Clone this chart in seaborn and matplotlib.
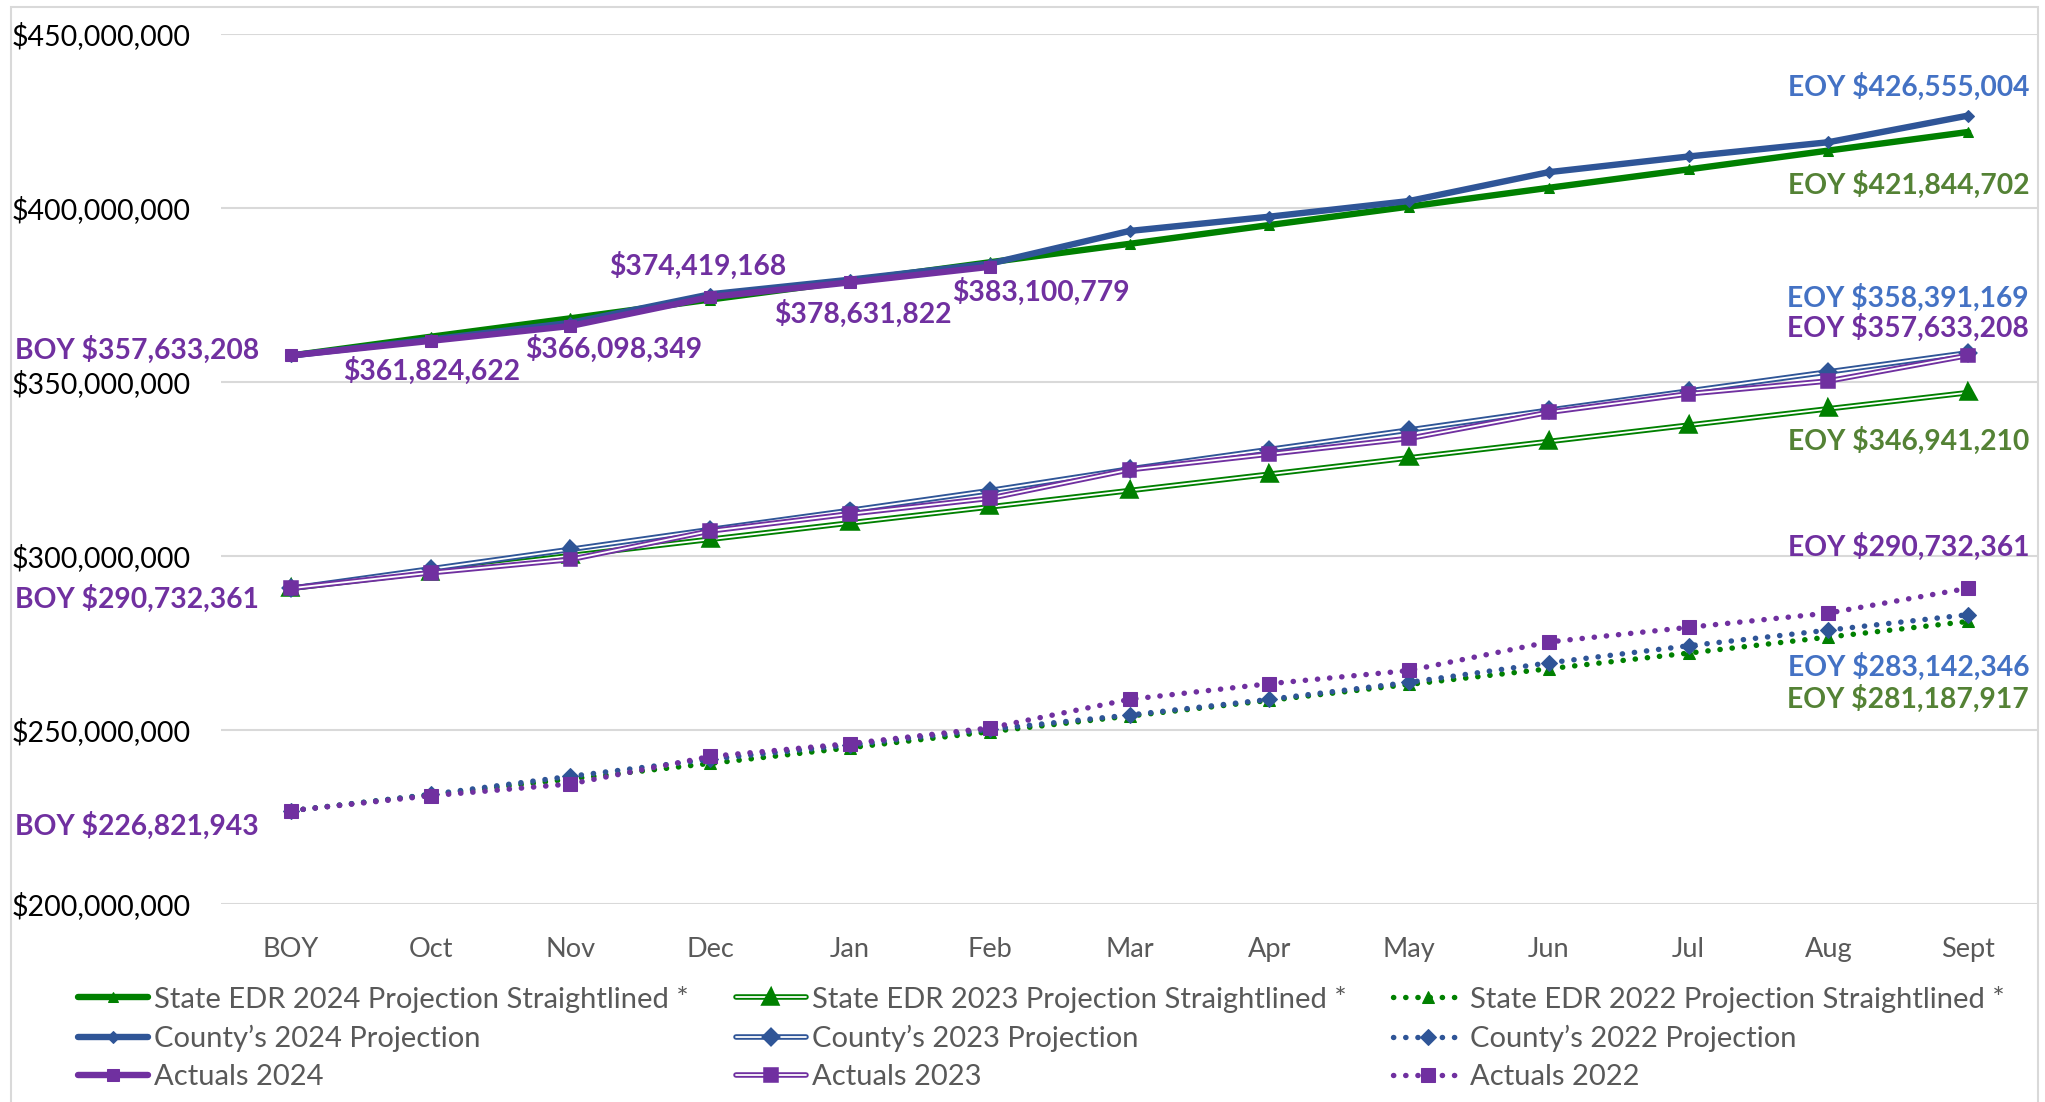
import numpy as np
import matplotlib
matplotlib.use("Agg")
import matplotlib.pyplot as plt
import matplotlib.patheffects as pe
from matplotlib.patches import Rectangle
from matplotlib.ticker import FuncFormatter
import seaborn as sns

months = ["BOY", "Oct", "Nov", "Dec", "Jan", "Feb", "Mar", "Apr", "May", "Jun", "Jul", "Aug", "Sept"]

# values in millions of dollars
state_2024 = [357.6, 363.0, 368.3, 373.7, 379.0, 384.4, 389.7, 395.1, 400.4, 405.8, 411.1, 416.5, 421.844702]
county_2024 = [357.6, 362.2, 367.0, 375.2, 379.4, 384.0, 393.4, 397.5, 402.0, 410.3, 414.8, 418.9, 426.555004]
actual_2024 = [357.633208, 361.824622, 366.098349, 374.419168, 378.631822, 383.100779]

state_2023 = [290.7, 295.4, 300.1, 304.8, 309.5, 314.1, 318.8, 323.5, 328.2, 332.9, 337.6, 342.3, 346.941210]
county_2023 = [290.7, 296.3, 301.9, 307.6, 313.1, 318.8, 325.0, 330.6, 336.2, 341.9, 347.4, 352.9, 358.391169]
actual_2023 = [290.732361, 295.2, 299.0, 307.2, 312.1, 316.6, 324.8, 329.3, 333.8, 341.3, 346.6, 350.3, 357.633208]

state_2022 = [226.8, 231.4, 235.9, 240.4, 244.9, 249.5, 254.0, 258.5, 263.1, 267.6, 272.1, 276.7, 281.187917]
county_2022 = [226.8, 231.5, 236.7, 241.6, 245.7, 250.2, 254.3, 258.8, 263.7, 269.3, 274.2, 278.7, 283.142346]
actual_2022 = [226.821943, 231.1, 234.5, 242.4, 246.1, 250.6, 258.8, 263.3, 267.1, 275.3, 279.5, 283.6, 290.732361]

series_labels = [
    "State EDR 2024 Projection Straightlined *", "County\u2019s 2024 Projection", "Actuals 2024",
    "State EDR 2023 Projection Straightlined *", "County\u2019s 2023 Projection", "Actuals 2023",
    "State EDR 2022 Projection Straightlined *", "County\u2019s 2022 Projection", "Actuals 2022",
]

GREEN = "#008000"
BLUE = "#2F5597"
PURPLE = "#7030A0"
LBL_GREEN = "#548235"
LBL_BLUE = "#4472C4"

sns.set_style("white")
plt.rcParams["font.family"] = ["Lato", "DejaVu Sans"]

fig = plt.figure(figsize=(20.45, 11.02), dpi=100)
ax = fig.add_axes([221 / 2045, 1 - 904 / 1102, (2038 - 221) / 2045, (904 - 34) / 1102])


def draw(values, label, color, marker, ms, kind, z):
    x = np.arange(len(values))
    y = np.array(values) * 1e6
    if kind == "solid":
        sns.lineplot(x=x, y=y, ax=ax, color=color, linewidth=4.6, marker=marker,
                     markersize=ms, markerfacecolor=color, markeredgecolor=color,
                     label=label, zorder=z)
    elif kind == "double":
        sns.lineplot(x=x, y=y, ax=ax, color="white", linewidth=1.3, marker=marker,
                     markersize=ms, markerfacecolor=color, markeredgecolor=color,
                     path_effects=[pe.Stroke(linewidth=4.0, foreground=color), pe.Normal()],
                     label=label, zorder=z)
    else:
        sns.lineplot(x=x, y=y, ax=ax, color=color, linewidth=3.9, marker=marker,
                     markersize=ms, markerfacecolor=color, markeredgecolor=color,
                     linestyle=(0, (0.05, 2.2)), dash_capstyle="round",
                     label=label, zorder=z)


draw(state_2024, series_labels[0], GREEN, "^", 7, "solid", 5)
draw(county_2024, series_labels[1], BLUE, "D", 6, "solid", 6)
draw(actual_2024, series_labels[2], PURPLE, "s", 9, "solid", 7)
draw(state_2023, series_labels[3], GREEN, "^", 8, "double", 3)
draw(county_2023, series_labels[4], BLUE, "D", 6, "double", 3.2)
draw(actual_2023, series_labels[5], PURPLE, "s", 7, "double", 3.4)
draw(state_2022, series_labels[6], GREEN, "^", 9, "dotted", 2)
draw(county_2022, series_labels[7], BLUE, "D", 8, "dotted", 2.2)
draw(actual_2022, series_labels[8], PURPLE, "s", 10, "dotted", 2.4)

ax.set_xlim(-0.5, 12.5)
ax.set_ylim(200e6, 450e6)
ax.set_xticks(range(len(months)))
ax.set_xticklabels(months)
ax.set_yticks(np.arange(200e6, 450e6 + 1, 50e6))
ax.yaxis.set_major_formatter(FuncFormatter(lambda v, p: f"${v:,.0f}"))
ax.tick_params(axis="x", labelsize=19.5, labelcolor="#595959", length=0, pad=24)
ax.tick_params(axis="y", labelsize=20.5, labelcolor="#000000", length=0, pad=22)
ax.grid(axis="y", color="#D9D9D9", linewidth=1.5)
ax.set_axisbelow(True)
for s in ax.spines.values():
    s.set_visible(False)
ax.set_xlabel("")
ax.set_ylabel("")

bold = dict(fontsize=20.3, fontweight="bold", textcoords="offset pixels")

# actuals 2024 point labels
pt_labels = ["$361,824,622", "$366,098,349", "$374,419,168", "$378,631,822", "$383,100,779"]
pt_offsets = [(1, -30), (43, -23), (-12, 31), (13, -31), (51, -25)]
for i, (t, off) in enumerate(zip(pt_labels, pt_offsets), start=1):
    ax.annotate(t, (i, actual_2024[i] * 1e6), xytext=off, ha="center", va="center",
                color=PURPLE, **bold)

# BOY labels
boy = [("BOY $357,633,208", actual_2024[0], 6), ("BOY $290,732,361", actual_2023[0], -11),
       ("BOY $226,821,943", actual_2022[0], -15)]
for t, v, dy in boy:
    ax.annotate(t, (0, v * 1e6), xytext=(-32, dy), ha="right", va="center", color=PURPLE, **bold)

# EOY labels
eoy = [("EOY $426,555,004", county_2024[-1], 29, LBL_BLUE),
       ("EOY $421,844,702", state_2024[-1], -53, LBL_GREEN),
       ("EOY $358,391,169", county_2023[-1], 55, LBL_BLUE),
       ("EOY $357,633,208", actual_2023[-1], 28, PURPLE),
       ("EOY $346,941,210", state_2023[-1], -48, LBL_GREEN),
       ("EOY $290,732,361", actual_2022[-1], 41, PURPLE),
       ("EOY $283,142,346", county_2022[-1], -52, LBL_BLUE),
       ("EOY $281,187,917", state_2022[-1], -77, LBL_GREEN)]
for t, v, dy, c in eoy:
    ax.annotate(t, (12, v * 1e6), xytext=(61, dy), ha="right", va="center", color=c, **bold)

handles, labels = ax.get_legend_handles_labels()
ax.legend(handles, labels, ncol=3, frameon=False, fontsize=21,
          loc="center left", bbox_to_anchor=(78 / 2045, 1 - 1038 / 1102),
          bbox_transform=fig.transFigure, borderpad=0, borderaxespad=0,
          handlelength=2.4, handletextpad=0.22, columnspacing=1.6, labelspacing=0.42,
          labelcolor="#595959")

fig.patches.append(Rectangle((11 / 2045, -0.05), (2038 - 11) / 2045, 1.05 - 7 / 1102,
                             transform=fig.transFigure, fill=False,
                             edgecolor="#D9D9D9", linewidth=1.5))

fig.savefig("out.png", dpi=100)
